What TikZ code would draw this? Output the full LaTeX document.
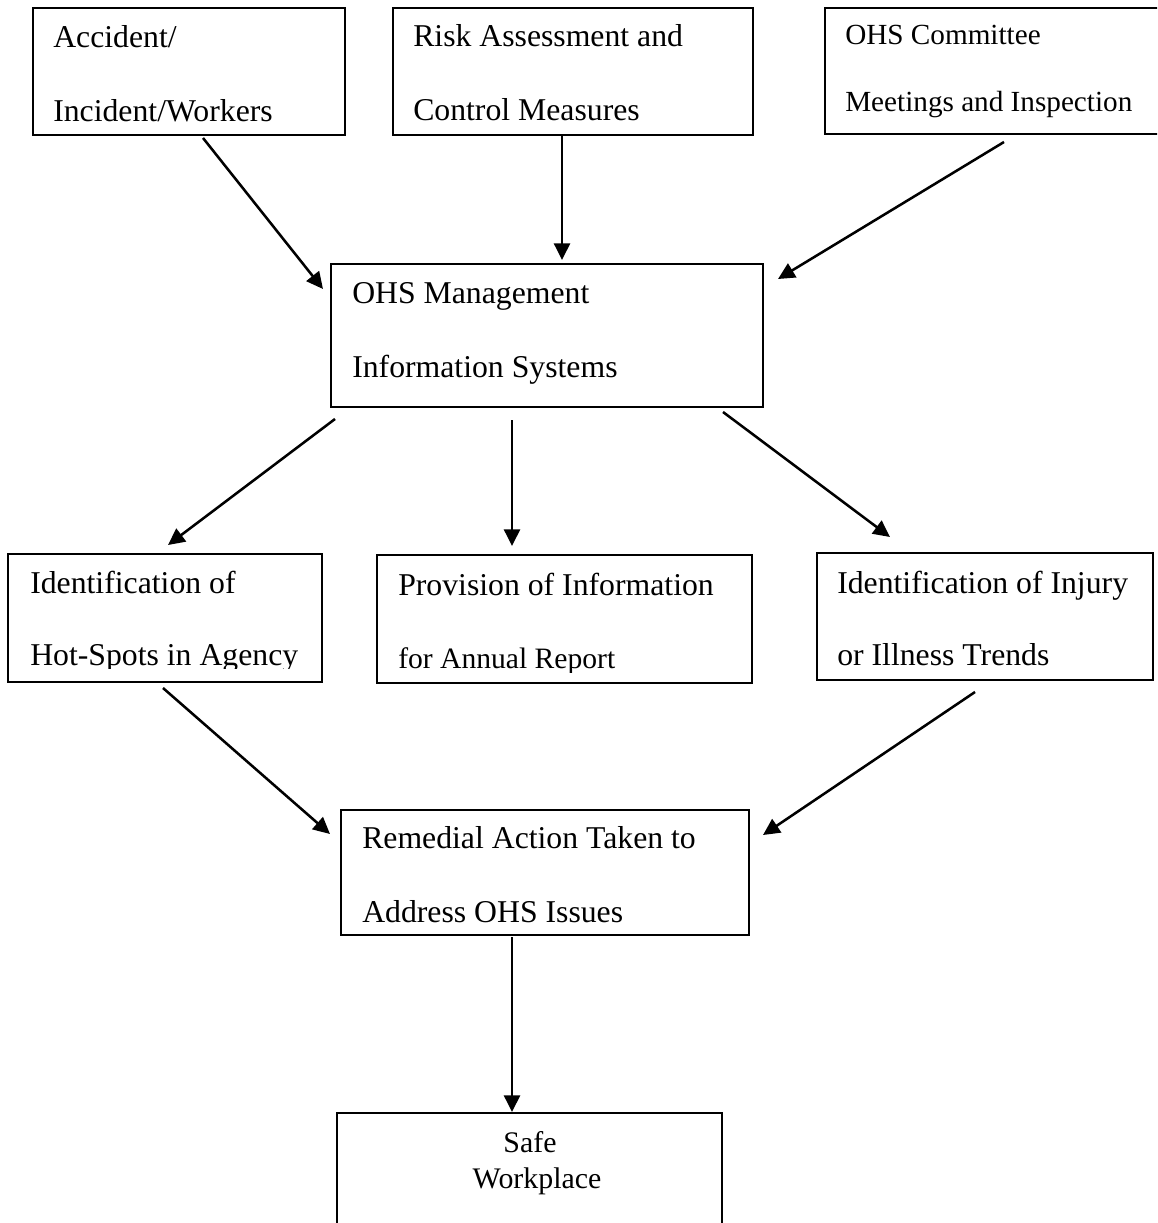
\documentclass[tikz,border=0pt]{standalone}
\usepackage{fontspec}
\setmainfont{Liberation Serif}
\usetikzlibrary{arrows.meta}
\begin{document}
\begin{tikzpicture}[x=0.75pt,y=-0.75pt,
  boxst/.style={draw=black, line width=1.5pt, rectangle, inner sep=0pt},
  txt/.style={anchor=base west, inner sep=0pt, font=\fontsize{23.8pt}{28pt}\selectfont},
  txts/.style={anchor=base west, inner sep=0pt, font=\fontsize{21.9pt}{26pt}\selectfont},
  arr/.style={line width=1.9pt, -{Triangle[length=12.5pt,width=12pt]}}
]
\useasboundingbox (0,0) rectangle (1157,1223);
\clip (0,0) rectangle (1157,1223);
\fill[white] (0,0) rectangle (1157,1223);
% boxes
\draw[boxst] (33,8) rectangle (345,135) node[pos=0.5, inner sep=0pt] (b1) {};
\draw[boxst] (393,8) rectangle (753,135) node[pos=0.5, inner sep=0pt] (b2) {};
\draw[boxst] (825,8) rectangle (1170,134) node[pos=0.5, inner sep=0pt] (b3) {};
\draw[boxst] (331,264) rectangle (763,407) node[pos=0.5, inner sep=0pt] (mid) {};
\draw[boxst] (8,554) rectangle (322,682) node[pos=0.5, inner sep=0pt] (b4) {};
\draw[boxst] (377,555) rectangle (752,683) node[pos=0.5, inner sep=0pt] (b5) {};
\draw[boxst] (817,553) rectangle (1153,680) node[pos=0.5, inner sep=0pt] (b6) {};
\draw[boxst] (341,810) rectangle (749,935) node[pos=0.5, inner sep=0pt] (rem) {};
\draw[boxst] (337,1113) rectangle (722,1260) node[pos=0.5, inner sep=0pt] (safe) {};
% texts
\node[txt] (t1a) at (53,48) {Accident/};
\node[txt] (t1b) at (53,122) {Incident/Workers};
\node[txt] (t2a) at (413,47) {Risk Assessment and};
\node[txt] (t2b) at (413,121) {Control Measures};
\node[txts] (t3a) at (845,45) {OHS Committee};
\node[txts] (t3b) at (845,112) {Meetings and Inspection};
\node[txt] (tma) at (352,303) {OHS Management};
\node[txt] (tmb) at (352,377) {Information Systems};
\node[txt] (t4a) at (30,593) {Identification of};
\begin{scope}
\clip (0,600) rectangle (340,668);
\node[txt] (t4b) at (30,665) {Hot-Spots in Agency};
\end{scope}
\node[txt] (t5a) at (398,595) {Provision of Information};
\begin{scope}
\clip (360,600) rectangle (760,672);
\node[txts, font=\fontsize{22.2pt}{26pt}\selectfont] (t5b) at (398,668) {for Annual Report};
\end{scope}
\node[txt] (t6a) at (837,593) {Identification of Injury};
\node[txt] (t6b) at (837,665) {or Illness Trends};
\node[txt] (tra) at (362,848) {Remedial Action Taken to};
\node[txt] (trb) at (362,922) {Address OHS Issues};
\node[txts, anchor=base, font=\fontsize{22.4pt}{26pt}\selectfont] (tsa) at (530,1152) {Safe};
\node[txts, anchor=base, font=\fontsize{22.4pt}{26pt}\selectfont] (tsb) at (537,1188) {Workplace};
% arrow end points
\coordinate (a1s) at (203,138); \coordinate (a1e) at (323,289);
\coordinate (a2s) at (562,136); \coordinate (a2e) at (562,260);
\coordinate (a3s) at (1004,142); \coordinate (a3e) at (778,279);
\coordinate (a4s) at (335,419); \coordinate (a4e) at (168,545);
\coordinate (a5s) at (512,420); \coordinate (a5e) at (512,546);
\coordinate (a6s) at (723,412); \coordinate (a6e) at (890,537);
\coordinate (a7s) at (163,688); \coordinate (a7e) at (330,834);
\coordinate (a8s) at (975,692); \coordinate (a8e) at (763,835);
\coordinate (a9s) at (512,937); \coordinate (a9e) at (512,1112);
\draw[arr] (a1s) -- (a1e);
\draw[arr] (a2s) -- (a2e);
\draw[arr] (a3s) -- (a3e);
\draw[arr] (a4s) -- (a4e);
\draw[arr] (a5s) -- (a5e);
\draw[arr] (a6s) -- (a6e);
\draw[arr] (a7s) -- (a7e);
\draw[arr] (a8s) -- (a8e);
\draw[arr] (a9s) -- (a9e);
\end{tikzpicture}
\end{document}
